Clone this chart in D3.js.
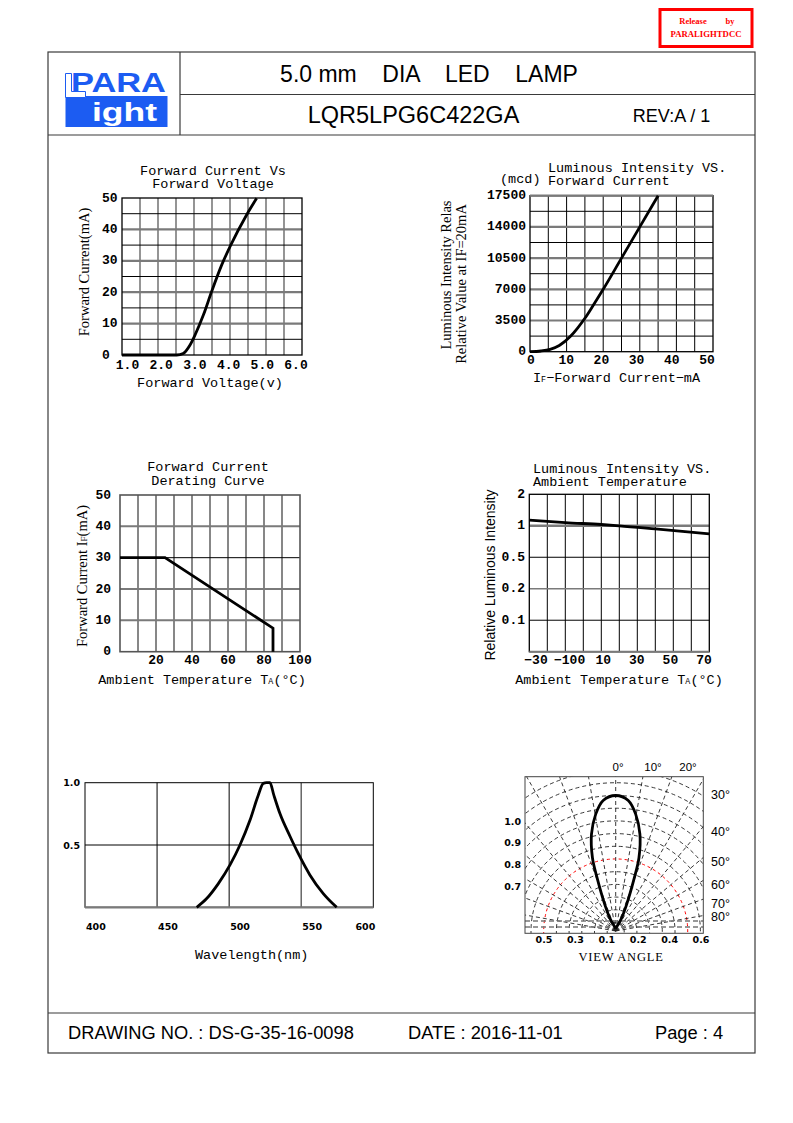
<!DOCTYPE html>
<html><head><meta charset="utf-8">
<script src="https://cdn.jsdelivr.net/npm/d3@7"></script>
<style>
html,body{margin:0;padding:0;background:#fff;}
svg{display:block;}
text{white-space:pre;}
</style></head><body>
<svg id="page" width="793" height="1123"></svg>
<script>
// ---------------- DATA ----------------
// Chart 1: Forward Current vs Forward Voltage
const fvVoltage = [1.0, 2.52, 2.70, 2.89, 3.03, 3.26, 3.49, 3.77, 4.00, 4.46, 4.74];
const fvCurrent = [0, 0, 0.5, 3.2, 6.4, 12.7, 20.2, 28.7, 34.5, 44.6, 49.9];
const fvXTicks = [1, 2, 3, 4, 5, 6];
const fvYTicks = [0, 10, 20, 30, 40, 50];

// Chart 2: Luminous Intensity vs Forward Current
const liCurrent = [0, 3, 5.5, 8, 11, 13, 15, 17.5, 20, 25, 30, 35];
const liIntensity = [0, 80, 270, 700, 1700, 2650, 3750, 5350, 7000, 10500, 14000, 17500];
const liXTicks = [0, 10, 20, 30, 40, 50];
const liYTicks = [0, 3500, 7000, 10500, 14000, 17500];

// Chart 3: Forward Current Derating Curve
const drTemp = [0, 25, 85, 85];
const drCurrent = [30, 30, 7.5, 0];
const drXTicks = [20, 40, 60, 80, 100];
const drYTicks = [0, 10, 20, 30, 40, 50];

// Chart 4: Luminous Intensity vs Ambient Temperature
const ltTemp = [-30, -10, 10, 20, 40, 70];
const ltIntensity = [1.18, 1.10, 1.04, 1.0, 0.95, 0.87];
const ltXTickLabels = ["\u221230", "\u2212100", "10", "30", "50", "70"];
const ltYLevels = [0, 0.1, 0.2, 0.5, 1, 2];
const ltYTickLabels = ["", "0.1", "0.2", "0.5", "1", "2"];

// Chart 5: Spectrum
const specWl = [477.5, 484.4, 492.5, 500.6, 507.5, 514.5, 520.2, 523.7, 526, 528.3, 531, 535.3, 542.2, 548, 556, 565.3, 574.6];
const specRel = [0, 0.07, 0.19, 0.34, 0.5, 0.70, 0.90, 0.995, 1.0, 1.0, 0.90, 0.75, 0.57, 0.43, 0.26, 0.11, 0];
const specXTicks = [400, 450, 500, 550, 600];
const specYTicks = [1.0, 0.5];

// Chart 6: View angle
const vaAngle = [0, 5.6, 9.9, 14.4, 18.2, 20.2, 24.6, 29.7, 30];
const vaRel = [1, 0.967, 0.873, 0.732, 0.56, 0.405, 0.195, 0.087, 0];
const vaTopLabels = ["0\u00b0", "10\u00b0", "20\u00b0"];
const vaSideAngles = [30, 40, 50, 60, 70, 80];
const vaLeftLabels = ["1.0", "0.9", "0.8", "0.7"];
const vaBottomLabels = ["0.5", "0.3", "0.1", "0.2", "0.4", "0.6"];

// Header / footer texts
const titleText = "5.0 mm    DIA    LED    LAMP";
const partText = "LQR5LPG6C422GA";
const revText = "REV:A / 1";
const footerTexts = ["DRAWING NO. : DS-G-35-16-0098", "DATE : 2016-11-01", "Page : 4"];

// ---------------- STYLE ----------------
const MONO = "'Liberation Mono','Courier New',monospace";
const SERIF = "'Liberation Serif','Times New Roman',serif";
const SANS = "'Liberation Sans',Arial,sans-serif";
const DSANS = "'DejaVu Sans',Verdana,sans-serif";
const BLUE = "#1c5cf2";

const svg = d3.select("#page");
svg.append("rect").attr("width", 793).attr("height", 1123).attr("fill", "#fff");

function text(g, x, y, s, o) {
  o = o || {};
  const t = g.append("text").attr("x", x).attr("y", y)
    .attr("font-family", o.font || MONO)
    .attr("font-size", o.size || 13.5)
    .attr("font-weight", o.weight || "normal")
    .attr("fill", o.fill || "#000")
    .attr("text-anchor", o.anchor || "start")
    .attr("dominant-baseline", o.baseline || "central");
  if (o.transform) t.attr("transform", o.transform);
  if (o.spacing) t.attr("letter-spacing", o.spacing);
  if (o.len) t.attr("textLength", o.len).attr("lengthAdjust", "spacingAndGlyphs");
  if (s !== null) t.text(s);
  return t;
}
// text with subscript part: parts [main, sub, rest]
function subText(g, x, y, parts, o) {
  const t = text(g, x, y, null, o);
  t.append("tspan").text(parts[0]);
  t.append("tspan").attr("font-size", (o.size || 13.5) * 0.62).attr("dy", 2).text(parts[1]);
  t.append("tspan").attr("dy", -2).text(parts[2]);
  return t;
}

// ---------------- FRAME ----------------
const FR = {l: 48, r: 755, t: 52, hm: 94.5, hb: 135, ft: 1013, b: 1053, sep: 180};
const frame = svg.append("g").attr("stroke", "#3a3a3a").attr("stroke-width", 1.2).attr("fill", "none");
frame.append("rect").attr("x", FR.l).attr("y", FR.t).attr("width", FR.r - FR.l).attr("height", FR.b - FR.t);
frame.append("line").attr("x1", FR.sep).attr("x2", FR.sep).attr("y1", FR.t).attr("y2", FR.hb);
frame.append("line").attr("x1", FR.sep).attr("x2", FR.r).attr("y1", FR.hm).attr("y2", FR.hm);
frame.append("line").attr("x1", FR.l).attr("x2", FR.r).attr("y1", FR.hb).attr("y2", FR.hb);
frame.append("line").attr("x1", FR.l).attr("x2", FR.r).attr("y1", FR.ft).attr("y2", FR.ft);

// Red release stamp
const stamp = svg.append("g");
stamp.append("rect").attr("x", 660).attr("y", 9.5).attr("width", 92).attr("height", 37)
  .attr("fill", "#fff").attr("stroke", "#f00").attr("stroke-width", 3);
text(stamp, 693, 21, "Release", {font: SERIF, size: 8.5, weight: "bold", fill: "#f00", anchor: "middle"});
text(stamp, 730, 21, "by", {font: SERIF, size: 8.5, weight: "bold", fill: "#f00", anchor: "middle"});
text(stamp, 706, 34, "PARALIGHTDCC", {font: SERIF, size: 8.7, weight: "bold", fill: "#f00", anchor: "middle", len: 71});

// Logo
const logo = svg.append("g");
text(logo, 71, 91.5, "PARA", {font: SANS, size: 27, weight: "bold", fill: BLUE, len: 95, baseline: "alphabetic"});
logo.append("rect").attr("x", 65.5).attr("y", 96).attr("width", 102).attr("height", 31).attr("fill", BLUE);
logo.append("path").attr("d", "M65.5,73.5 H71.5 V91.5 H85.5 V97.5 H65.5 Z")
  .attr("fill", "#fff").attr("stroke", BLUE).attr("stroke-width", 1);
text(logo, 92, 121, "ight", {font: SANS, size: 26, weight: "bold", fill: "#fff", len: 65, baseline: "alphabetic"});

// Header texts
text(svg, 429, 74, titleText, {font: SANS, size: 23, anchor: "middle"});
text(svg, 413.5, 115, partText, {font: SANS, size: 23.5, anchor: "middle"});
text(svg, 671.5, 116, revText, {font: SANS, size: 18, anchor: "middle"});

// Footer texts
const footX = [68, 408, 655];
footerTexts.forEach((s, i) => text(svg, footX[i], 1032, s, {font: SANS, size: 18.3}));

// ---------------- GRID HELPER ----------------
function vlines(g, vals, x, top, bot, styleFn) {
  g.append("g").selectAll("line").data(vals).join("line")
    .attr("x1", d => x(d)).attr("x2", d => x(d)).attr("y1", top).attr("y2", bot)
    .attr("stroke", d => styleFn(d)[0]).attr("stroke-width", d => styleFn(d)[1]);
}
function hlines(g, vals, y, left, right, styleFn) {
  g.append("g").selectAll("line").data(vals).join("line")
    .attr("y1", d => y(d)).attr("y2", d => y(d)).attr("x1", left).attr("x2", right)
    .attr("stroke", d => styleFn(d)[0]).attr("stroke-width", d => styleFn(d)[1]);
}
const GRAY = "#7a7a7a";
const CURVE_W = 2.8;

// ---------------- CHART 1 ----------------
{
  const P = {l: 122, r: 302, t: 198, b: 355};
  const x = d3.scaleLinear().domain([1, 6]).range([P.l, P.r]);
  const xLab = d3.scaleLinear().domain([1, 6]).range([127.5, 296]);
  const y = d3.scaleLinear().domain([0, 50]).range([P.b, P.t]);
  const g = svg.append("g");
  vlines(g, d3.range(1.5, 6, 0.5), x, P.t, P.b, () => [GRAY, 1.6]);
  hlines(g, d3.range(5, 50, 5), y, P.l, P.r, d => d % 10 === 0 ? [GRAY, 2.2] : ["#000", 1]);
  g.append("rect").attr("x", P.l).attr("y", P.t).attr("width", P.r - P.l).attr("height", P.b - P.t)
    .attr("fill", "none").attr("stroke", "#000").attr("stroke-width", 1.3);
  const line = d3.line().x(d => x(d[0])).y(d => y(d[1])).curve(d3.curveMonotoneX);
  g.append("path").attr("d", line(d3.zip(fvVoltage, fvCurrent)))
    .attr("fill", "none").attr("stroke", "#000").attr("stroke-width", CURVE_W).attr("stroke-linejoin", "round");
  fvYTicks.forEach(v => text(g, 102, y(v), String(v), {size: 13, weight: "bold"}));
  fvXTicks.forEach(v => text(g, xLab(v), 365, v.toFixed(1), {size: 13, weight: "bold", anchor: "middle"}));
  text(g, 213, 171, "Forward Current Vs", {anchor: "middle"});
  text(g, 213, 184.5, "Forward Voltage", {anchor: "middle"});
  text(g, 210, 383, "Forward Voltage(v)", {anchor: "middle"});
  text(g, 0, 0, "Forward Current(mA)", {font: SERIF, size: 14.5, anchor: "middle", transform: "translate(84,272) rotate(-90)"});
}

// ---------------- CHART 2 ----------------
{
  const P = {l: 530, r: 713, t: 195.7, b: 351.7};
  const x = d3.scaleLinear().domain([0, 50]).range([P.l, P.r]);
  const xLab = d3.scaleLinear().domain([0, 50]).range([531, 707]);
  const y = d3.scaleLinear().domain([0, 17500]).range([P.b, P.t]);
  const g = svg.append("g");
  vlines(g, d3.range(5, 50, 5), x, P.t, P.b, () => ["#000", 1]);
  hlines(g, d3.range(1750, 17500, 1750), y, P.l, P.r, d => d % 3500 === 0 ? [GRAY, 2.2] : ["#000", 1]);
  g.append("rect").attr("x", P.l).attr("y", P.t).attr("width", P.r - P.l).attr("height", P.b - P.t)
    .attr("fill", "none").attr("stroke", "#000").attr("stroke-width", 1.3);
  hlines(g, [17500], y, P.l, P.r, () => [GRAY, 2.2]);
  const line = d3.line().x(d => x(d[0])).y(d => y(d[1])).curve(d3.curveMonotoneX);
  g.append("path").attr("d", line(d3.zip(liCurrent, liIntensity)))
    .attr("fill", "none").attr("stroke", "#000").attr("stroke-width", CURVE_W).attr("stroke-linejoin", "round");
  liYTicks.forEach(v => text(g, 526, y(v), String(v), {size: 13, weight: "bold", anchor: "end"}));
  liXTicks.forEach(v => text(g, xLab(v), 360, String(v), {size: 13, weight: "bold", anchor: "middle"}));
  text(g, 548, 168, "Luminous Intensity VS.", {});
  text(g, 548, 181, "Forward Current", {});
  text(g, 500, 179, "(mcd)", {});
  subText(g, 533, 377.5, ["I", "F", "\u2212Forward Current\u2212mA"], {size: 13.5});
  text(g, 0, 0, "Luminous Intensity Relas", {font: SERIF, size: 14.5, anchor: "middle", transform: "translate(446,275) rotate(-90)"});
  text(g, 0, 0, "Relative Value at IF=20mA", {font: SERIF, size: 14.5, anchor: "middle", transform: "translate(461,284) rotate(-90)"});
}

// ---------------- CHART 3 ----------------
{
  const P = {l: 120, r: 300, t: 495, b: 651.7};
  const x = d3.scaleLinear().domain([0, 100]).range([P.l, P.r]);
  const y = d3.scaleLinear().domain([0, 50]).range([P.b, P.t]);
  const g = svg.append("g");
  vlines(g, d3.range(10, 100, 10), x, P.t, P.b, () => [GRAY, 1.8]);
  hlines(g, d3.range(10, 50, 10), y, P.l, P.r, d => d === 30 ? ["#000", 1] : [GRAY, 2]);
  g.append("rect").attr("x", P.l).attr("y", P.t).attr("width", P.r - P.l).attr("height", P.b - P.t)
    .attr("fill", "none").attr("stroke", "#555").attr("stroke-width", 1.6);
  const line = d3.line().x(d => x(d[0])).y(d => y(d[1]));
  g.append("path").attr("d", line(d3.zip(drTemp, drCurrent)))
    .attr("fill", "none").attr("stroke", "#000").attr("stroke-width", CURVE_W).attr("stroke-linejoin", "miter");
  drYTicks.forEach(v => text(g, 111, y(v), String(v), {size: 13, weight: "bold", anchor: "end"}));
  drXTicks.forEach(v => text(g, x(v), 660, String(v), {size: 13, weight: "bold", anchor: "middle"}));
  text(g, 208, 467.5, "Forward Current", {anchor: "middle"});
  text(g, 208, 481, "Derating Curve", {anchor: "middle"});
  subText(g, 202, 680, ["Ambient Temperature T", "A", "(\u00b0C)"], {anchor: "middle"});
  subText(g, 0, 0, ["Forward Current I", "F", "(mA)"], {font: SERIF, size: 14.5, anchor: "middle", transform: "translate(82,576) rotate(-90)"});
}

// ---------------- CHART 4 ----------------
{
  const P = {l: 529.3, r: 709.3, t: 494.3, b: 651.7};
  const x = d3.scaleLinear().domain([-30, 70]).range([P.l, P.r]);
  const xLab = d3.scalePoint().domain(ltXTickLabels).range([536, 704]);
  const step = (P.b - P.t) / (ltYLevels.length - 1);
  const y = d3.scaleLinear().domain(ltYLevels).range(ltYLevels.map((d, i) => P.b - i * step));
  const g = svg.append("g");
  vlines(g, d3.range(-20, 70, 10), x, P.t, P.b, () => ["#000", 1]);
  hlines(g, ltYLevels.slice(1, -1), y, P.l, P.r, d => d === 1 ? [GRAY, 2.6] : d === 0.2 ? [GRAY, 1.4] : ["#000", 1]);
  g.append("rect").attr("x", P.l).attr("y", P.t).attr("width", P.r - P.l).attr("height", P.b - P.t)
    .attr("fill", "none").attr("stroke", "#000").attr("stroke-width", 1.3);
  hlines(g, [0], y, P.l, P.r, () => [GRAY, 2]);
  const line = d3.line().x(d => x(d[0])).y(d => y(d[1])).curve(d3.curveMonotoneX);
  g.append("path").attr("d", line(d3.zip(ltTemp, ltIntensity)))
    .attr("fill", "none").attr("stroke", "#000").attr("stroke-width", CURVE_W);
  ltYLevels.forEach((v, i) => { if (ltYTickLabels[i]) text(g, 525, y(v), ltYTickLabels[i], {size: 13, weight: "bold", anchor: "end"}); });
  ltXTickLabels.forEach(s => text(g, xLab(s), 660, s, {size: 13, weight: "bold", anchor: "middle"}));
  text(g, 533, 469, "Luminous Intensity VS.", {});
  text(g, 533, 482, "Ambient Temperature", {});
  subText(g, 619, 680, ["Ambient Temperature T", "A", "(\u00b0C)"], {anchor: "middle"});
  text(g, 0, 0, "Relative Luminous Intensity", {font: SANS, size: 14, anchor: "middle", transform: "translate(490,575) rotate(-90)"});
}

// ---------------- CHART 5 ----------------
{
  const P = {l: 85, r: 373.3, t: 782.7, b: 907.3};
  const x = d3.scaleLinear().domain([400, 600]).range([P.l, P.r]);
  const y = d3.scaleLinear().domain([0, 1]).range([P.b, P.t]);
  const g = svg.append("g");
  vlines(g, [450, 500, 550], x, P.t, P.b, d => d === 550 ? ["#666", 1.5] : ["#000", 1]);
  hlines(g, [0.5], y, P.l, P.r, () => ["#000", 1]);
  g.append("rect").attr("x", P.l).attr("y", P.t).attr("width", P.r - P.l).attr("height", P.b - P.t)
    .attr("fill", "none").attr("stroke", "#000").attr("stroke-width", 1);
  hlines(g, [0], y, P.l, P.r, () => [GRAY, 2.2]);
  const line = d3.line().x(d => x(d[0])).y(d => y(d[1])).curve(d3.curveMonotoneX);
  g.append("path").attr("d", line(d3.zip(specWl, specRel)))
    .attr("fill", "none").attr("stroke", "#000").attr("stroke-width", CURVE_W).attr("stroke-linejoin", "round");
  specYTicks.forEach(v => text(g, 80, y(v), v.toFixed(1), {font: DSANS, size: 9.5, weight: "bold", anchor: "end"}));
  specXTicks.forEach((v, i) => {
    const last = i === specXTicks.length - 1;
    text(g, last ? x(v) + 2 : x(v) + 1, 926, String(v), {font: DSANS, size: 9.5, weight: "bold", anchor: last ? "end" : "start"});
  });
  text(g, 251.7, 955, "Wavelength(nm)", {anchor: "middle"});
}

// ---------------- CHART 6 ----------------
{
  const P = {l: 525, r: 703.3, t: 776.7, b: 933.3};
  const cx = 615.7, cy = 931, lobeCy = 928.5;
  const g = svg.append("g");
  svg.append("defs").append("clipPath").attr("id", "vaClip")
    .append("rect").attr("x", P.l).attr("y", P.t).attr("width", P.r - P.l).attr("height", P.b - P.t);
  const inner = g.append("g").attr("clip-path", "url(#vaClip)");
  const arcRadii = d3.range(0, 13).map(k => 8.5 + 12.7 * k);
  const arcPath = r => { const p = d3.path(); p.moveTo(cx - r, cy + 4); p.lineTo(cx - r, cy); p.arc(cx, cy, r, Math.PI, 2 * Math.PI); p.lineTo(cx + r, cy + 4); return p.toString(); };
  inner.selectAll("path.arc").data(arcRadii).join("path").attr("class", "arc")
    .attr("d", arcPath).attr("fill", "none")
    .attr("stroke", (d, i) => i === 5 ? "#f00" : "#222")
    .attr("stroke-width", (d, i) => i === 5 ? 1 : 0.9)
    .attr("stroke-dasharray", (d, i) => i === 5 ? "3,3" : "4,3");
  const rad = d3.range(-80, 81, 10);
  inner.selectAll("line.rad").data(rad).join("line").attr("class", "rad")
    .attr("x1", cx).attr("y1", cy)
    .attr("x2", d => cx + 260 * Math.sin(d * Math.PI / 180))
    .attr("y2", d => cy - 260 * Math.cos(d * Math.PI / 180))
    .attr("stroke", "#222").attr("stroke-width", 0.9).attr("stroke-dasharray", "4,3");
  inner.selectAll("line.hz").data([cy - 10, cy - 4]).join("line").attr("class", "hz")
    .attr("x1", P.l).attr("x2", P.r).attr("y1", d => d).attr("y2", d => d)
    .attr("stroke", "#777").attr("stroke-width", 1.6).attr("stroke-dasharray", "5,3");
  g.append("rect").attr("x", P.l).attr("y", P.t).attr("width", P.r - P.l).attr("height", P.b - P.t)
    .attr("fill", "none").attr("stroke", "#444").attr("stroke-width", 1);
  const rScale = d3.scaleLinear().domain([0, 1]).range([0, 133]);
  const pts = [];
  for (let i = vaAngle.length - 1; i >= 1; i--) pts.push([-vaAngle[i], vaRel[i]]);
  for (let i = 0; i < vaAngle.length; i++) pts.push([vaAngle[i], vaRel[i]]);
  const lobe = d3.lineRadial().angle(d => d[0] * Math.PI / 180).radius(d => rScale(d[1])).curve(d3.curveCatmullRom);
  g.append("path").attr("d", lobe(pts)).attr("transform", `translate(${cx},${lobeCy})`)
    .attr("fill", "none").attr("stroke", "#000").attr("stroke-width", CURVE_W).attr("stroke-linejoin", "round");
  const topX = d3.scalePoint().domain(vaTopLabels).range([618, 688]);
  vaTopLabels.forEach(s => text(g, topX(s), 767, s, {font: SANS, size: 11.5, anchor: "middle"}));
  vaSideAngles.forEach(a => {
    const dy = (P.r - cx) / Math.tan(a * Math.PI / 180);
    const yy = Math.max(795, Math.min(917, cy - dy + 5));
    text(g, 711, yy, a + "\u00b0", {font: SANS, size: 12.5});
  });
  const leftY = d3.scalePoint().domain(vaLeftLabels).range([821, 886]);
  vaLeftLabels.forEach(s => text(g, 521, leftY(s), s, {font: DSANS, size: 9.5, weight: "bold", anchor: "end"}));
  const botX = d3.scalePoint().domain(vaBottomLabels).range([544, 701]);
  vaBottomLabels.forEach(s => text(g, botX(s), 939, s, {font: DSANS, size: 9.5, weight: "bold", anchor: "middle"}));
  text(g, 621, 956.5, "VIEW ANGLE", {font: SERIF, size: 12.5, anchor: "middle", spacing: 0.8});
}
</script>
</body></html>
